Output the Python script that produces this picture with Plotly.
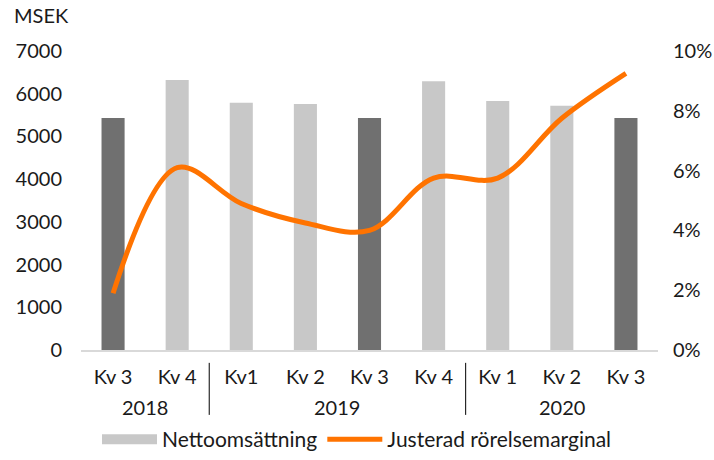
import plotly.graph_objects as go

# Data
years = ["2018", "2018", "2019", "2019", "2019", "2019", "2020", "2020", "2020"]
quarters = ["Kv 3", "Kv 4", "Kv1", "Kv 2", "Kv 3", "Kv 4", "Kv 1", "Kv 2", "Kv 3"]
nettoomsattning = [5430, 6320, 5790, 5760, 5430, 6290, 5830, 5720, 5430]
rorelsemarginal = [1.9, 6.1, 4.9, 4.25, 4.0, 5.75, 5.75, 7.75, 9.25]

DARK = "#707070"
LIGHT = "#C8C8C8"
ORANGE = "#FF7300"

idx = list(range(len(quarters)))
bar_colors = [DARK if q == "Kv 3" else LIGHT for q in quarters]

fig = go.Figure()
fig.add_trace(go.Bar(
    x=idx, y=nettoomsattning,
    name="Nettoomsättning",
    marker=dict(color=bar_colors, line=dict(width=0)),
    width=0.36, showlegend=False,
))
# legend-only entry: a thick grey line gives a wide rectangle swatch
fig.add_trace(go.Scatter(
    x=idx, y=[None] * len(idx), name="Nettoomsättning",
    mode="lines", line=dict(color=LIGHT, width=14),
))
fig.add_trace(go.Scatter(
    x=idx, y=[v / 100 for v in rorelsemarginal],
    name="Justerad rörelsemarginal",
    mode="lines",
    line=dict(color=ORANGE, width=5, shape="spline", smoothing=1.0),
    yaxis="y2",
))

font = dict(family="Lato, Open Sans, sans-serif", size=20, color="#1a1a1a")

# year labels under the quarter labels, and dividers between years
annotations = [dict(text="MSEK", xref="paper", yref="paper", x=-0.12, y=1.075,
                    xanchor="left", yanchor="bottom", showarrow=False, font=font)]
shapes = []
for yr in dict.fromkeys(years):
    pos = [i for i, y in enumerate(years) if y == yr]
    annotations.append(dict(text=yr, xref="x", yref="paper", x=sum(pos) / len(pos),
                            y=-0.19, yanchor="middle", showarrow=False, font=font))
    if pos[0] > 0:
        shapes.append(dict(type="line", xref="x", yref="paper", x0=pos[0] - 0.5,
                           x1=pos[0] - 0.5, y0=-0.043, y1=-0.217,
                           line=dict(color="black", width=1)))

fig.update_layout(
    width=714, height=460,
    margin=dict(l=81, r=56, t=51, b=110, autoexpand=False),
    paper_bgcolor="white", plot_bgcolor="white",
    font=font,
    legend=dict(orientation="h", x=0.5, xanchor="center", xref="container",
                y=-0.045, yanchor="bottom", yref="container",
                bgcolor="rgba(0,0,0,0)",
                font=dict(font, size=21), traceorder="normal",
                itemwidth=55),
    xaxis=dict(range=[-0.5, len(idx) - 0.5], tickvals=idx, ticktext=quarters,
               showline=True, linecolor="#D9D9D9", linewidth=2, showgrid=False,
               zeroline=False, ticks="", tickfont=font, ticklabelstandoff=8,
               automargin=False),
    yaxis=dict(range=[0, 7000], dtick=1000, showgrid=False, zeroline=False,
               tickfont=font, ticklabelstandoff=18, automargin=False),
    yaxis2=dict(range=[0, 0.1], dtick=0.02, tickformat=".0%", overlaying="y",
                side="right", showgrid=False, zeroline=False, tickfont=font,
                ticklabelstandoff=14, automargin=False),
    annotations=annotations,
    shapes=shapes,
)

fig.write_html("out.html", config={"displayModeBar": False},
               post_script="document.body.style.margin='0';")
